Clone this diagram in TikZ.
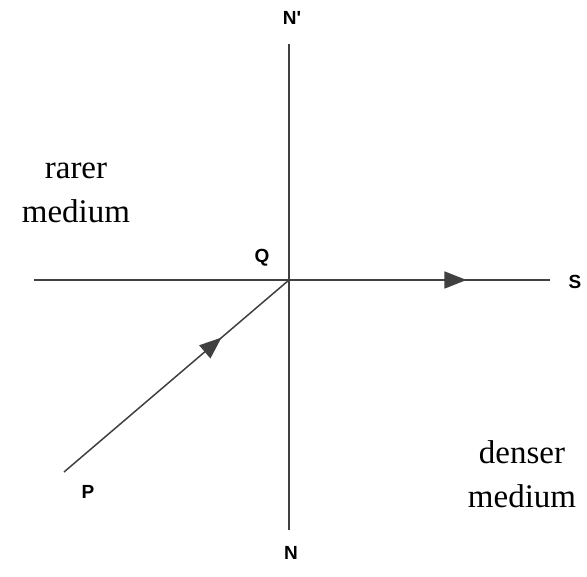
\documentclass[tikz,border=0pt]{standalone}
\usepackage{fontspec}
\setmainfont{Liberation Serif}
\newfontfamily\labfont{Liberation Sans}
\usetikzlibrary{arrows.meta,decorations.markings}

\tikzset{
  ray/.style={draw=black!75, line width=1.5pt},
  midarrow/.style={postaction={decorate}, decoration={markings,
      mark=at position #1 with {\arrow{Triangle[length=22pt,width=17pt]}}}},
  lab/.style={font=\labfont\bfseries\fontsize{19}{21}\selectfont, inner sep=0pt},
  medium/.style={font=\fontsize{33}{44}\selectfont, align=center, inner sep=0pt}
}

\begin{document}
\begin{tikzpicture}[x=1pt,y=-1pt]
            \useasboundingbox (0,0) rectangle (587,577);

            % points of the figure
            \coordinate (Q) at (289,280);
            \coordinate (top) at (289,44);
            \coordinate (bot) at (289,530);
            \coordinate (left) at (34,280);
            \coordinate (right) at (550,280);
            \coordinate (Pend) at (64,472);

            % normal and surface
            \draw[ray] (top) -- (bot);
            \draw[ray] (left) -- (Q);
            \draw[ray, midarrow=0.68] (Q) -- (right);

            % incident ray
            \draw[ray, midarrow=0.7] (Pend) -- (Q);

            % labels
            \node[lab] (Nt) at (292,18) {N\textquotesingle};
            \node[lab] (Qlab) at (262,258) {Q};
            \node[lab] (S) at (575,282) {S};
            \node[lab] (P) at (88,492) {P};
            \node[lab] (N) at (291,553) {N};

            \node[medium] (rarer) at (76,193) {rarer\\medium};
            \node[medium] (denser) at (522,474) {denser\\medium};
\end{tikzpicture}
\end{document}
